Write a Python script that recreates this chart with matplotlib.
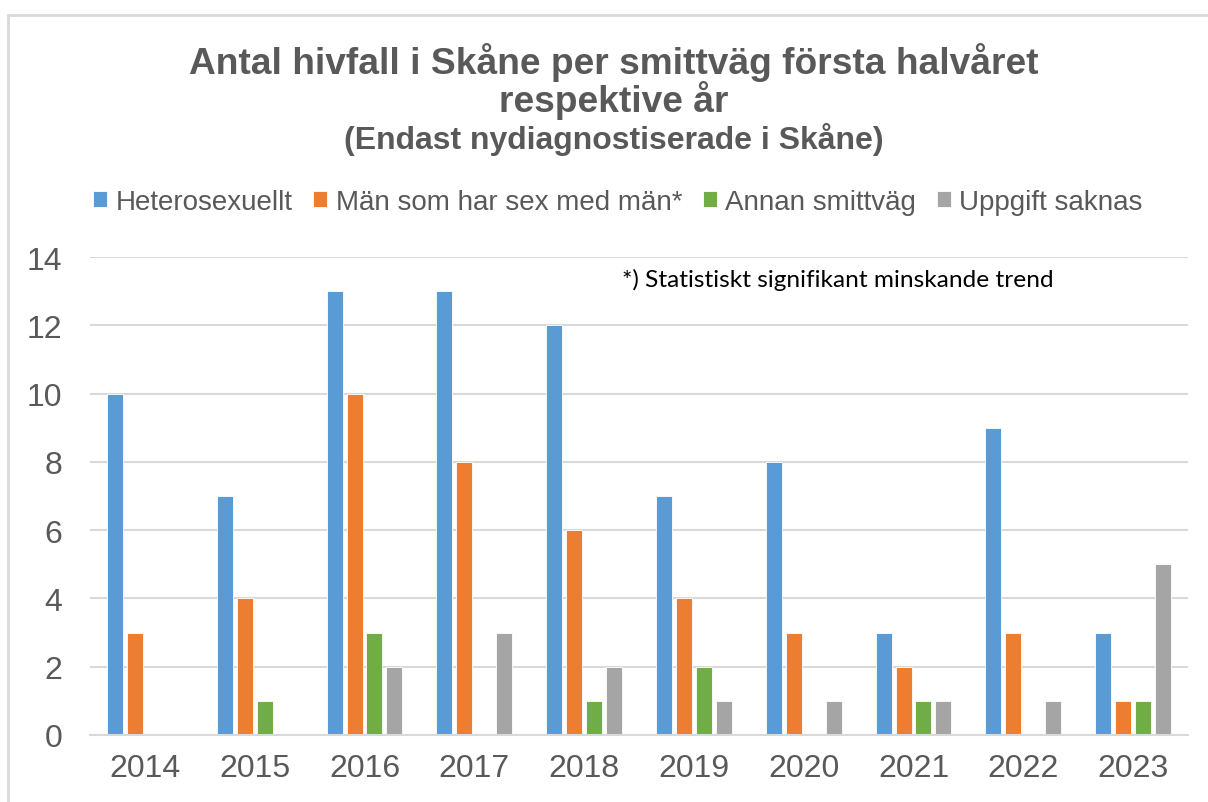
import matplotlib.pyplot as plt
import numpy as np
from matplotlib.patches import Rectangle

# years and number of new hiv cases per route of transmission
years = ["2014", "2015", "2016", "2017", "2018", "2019", "2020", "2021", "2022", "2023"]
hetero = [10, 7, 13, 13, 12, 7, 8, 3, 9, 3]
msm = [3, 4, 10, 8, 6, 4, 3, 2, 3, 1]
annan = [0, 1, 3, 0, 1, 2, 0, 1, 0, 1]
saknas = [0, 0, 2, 3, 2, 1, 1, 1, 1, 5]

series = ["Heterosexuellt", "Män som har sex med män*", "Annan smittväg", "Uppgift saknas"]
colors = ["#5B9BD5", "#ED7D31", "#70AD47", "#A5A5A5"]

plt.rcParams['font.family'] = ['Liberation Sans', 'DejaVu Sans']
text_gray = "#595959"

fig = plt.figure(figsize=(12.08, 8.03), dpi=100)
ax = fig.add_axes([90 / 1208, 1 - 736 / 803, 1098 / 1208, 478 / 803])

# light border round the chart area
fig.patches.append(Rectangle((8 / 1208, -0.01), 1.02, 1 - 16 / 803 + 0.01,
                             transform=fig.transFigure, fill=False,
                             edgecolor="#d9d9d9", linewidth=2))

x = np.arange(len(years))
slot = 0.182
for i, (vals, col, name) in enumerate(zip([hetero, msm, annan, saknas], colors, series)):
    ax.bar(x + (i - 1.5) * slot, vals, width=slot * 0.8, color=col, label=name,
           edgecolor="white", linewidth=0.6)

ax.set_xlim(-0.5, len(years) - 0.5)
ax.set_ylim(0, 14)
ax.set_yticks(range(0, 15, 2))
ax.set_xticks(x)
ax.set_xticklabels(years)
ax.tick_params(axis="both", length=0, labelsize=23, colors=text_gray)
ax.tick_params(axis="x", pad=13)
ax.tick_params(axis="y", pad=20)
ax.yaxis.grid(True, color="#d9d9d9", linewidth=1.5)
ax.set_axisbelow(True)
for s in ["top", "right", "left"]:
    ax.spines[s].set_visible(False)
ax.spines["bottom"].set_color("#d9d9d9")
ax.spines["bottom"].set_linewidth(1.5)

# title block, centred a little right of the figure middle
cx = 614 / 1208
fig.text(cx, 1 - 62 / 803, "Antal hivfall i Skåne per smittväg första halvåret",
         ha="center", va="center", fontsize=26.7, fontweight="bold", color=text_gray)
fig.text(cx, 1 - 101 / 803, "respektive år",
         ha="center", va="center", fontsize=26.7, fontweight="bold", color=text_gray)
fig.text(cx, 1 - 140 / 803, "(Endast nydiagnostiserade i Skåne)", ha="center", va="center",
         fontsize=23, fontweight="bold", color=text_gray)

fig.legend(loc="center", bbox_to_anchor=(618 / 1208, 1 - 203 / 803), ncol=4, frameon=False,
           fontsize=20, labelcolor=text_gray, handlelength=0.5, handleheight=0.5,
           handletextpad=0.3, columnspacing=0.75)

fig.text(622 / 1208, 1 - 280 / 803, "*) Statistiskt signifikant minskande trend",
         ha="left", va="center", fontsize=17.6, color="black", family=["Lato", "DejaVu Sans"])

fig.savefig("out.png", dpi=100)
